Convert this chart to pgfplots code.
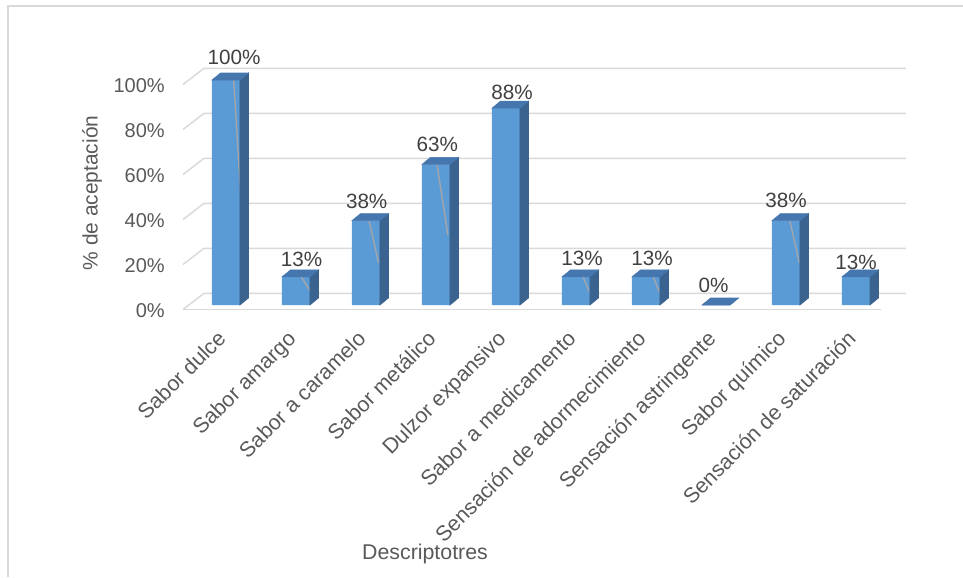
\documentclass[border=0pt]{standalone}
\usepackage{pgfplots}
\pgfplotsset{compat=1.18}
\usepackage{pgfplotstable}
\usepackage{fontspec}
\setmainfont{Liberation Sans}
\definecolor{frontcol}{HTML}{5B9BD5}
\definecolor{sidecol}{HTML}{3A638F}
\definecolor{topcol}{HTML}{4676AE}
\definecolor{gridcol}{HTML}{D9D9D9}
\definecolor{txtcol}{HTML}{595959}
\definecolor{lblcol}{HTML}{404040}
\definecolor{leadcol}{HTML}{A6A6A6}
\pgfdeclareplotmark{empty}{}

\pgfplotstableread{
x v
0 100
1 12.5
2 37.5
3 62.5
4 87.5
5 12.5
6 12.5
7 0
8 37.5
9 12.5
}\bardata

\pgfplotstableread{
lx ly lab
0.114 109.9 100\%
1.081 20.1 13\%
2.01 46.2 38\%
3.02 71.5 63\%
4.086 94.5 88\%
5.086 20.9 13\%
6.086 20.9 13\%
6.964 8.5 0\%
8.0 46.7 38\%
9.0 18.9 13\%
}\barlabels

\begin{document}
\begin{tikzpicture}[font=\fontsize{15}{18}\selectfont]
\begin{axis}[
  x=52.5pt, y=1.6875pt,
  xmin=-0.614, xmax=9.714, ymin=-2.2, ymax=112,
  clip=false,
  axis line style={draw=none},
  major tick length=0pt,
  tick style={draw=none},
  xtick={0,...,9},
  xticklabels={Sabor dulce,Sabor amargo,Sabor a caramelo,Sabor metálico,Dulzor expansivo,Sabor a medicamento,Sensación de adormecimiento,Sensación astringente,Sabor químico,Sensación de saturación},
  ytick={0,20,...,100},
  yticklabels={0\%,20\%,40\%,60\%,80\%,100\%},
  xticklabel style={xshift=-7.5pt, yshift=-14.25pt, rotate=45, anchor=north east, inner sep=0pt, text=txtcol, font=\fontsize{16}{19}\selectfont},
  yticklabel style={xshift=-13.5pt, yshift=-4.2pt, anchor=east, inner sep=0pt, text=txtcol, font=\fontsize{15}{18}\selectfont},
  xlabel={Descriptotres}, ylabel={\% de aceptación},
  every axis x label/.style={at={(axis cs:2.843,-110.7)}, anchor=center, text=txtcol, font=\fontsize{16}{19}\selectfont},
  every axis y label/.style={at={(axis cs:-1.914,49.8)}, rotate=90, anchor=center, text=txtcol, font=\fontsize{15.7}{19}\selectfont},
]
% frame
\draw[gridcol, line width=1.5pt] (axis cs:-3.114,-120.89) -- (axis cs:-3.114,132.9) -- (axis cs:10.5286,132.9);
% floor and walls
\draw[gridcol, line width=1.1pt] (axis cs:-0.614,-2.0) -- (axis cs:9.357,-2.0);
\draw[gridcol, line width=1.1pt] (axis cs:-0.614,-2.0) -- (axis cs:-0.314,5.2) -- (axis cs:9.714,5.2);
\draw[gridcol, line width=1.1pt] (axis cs:-0.614,18.0) -- (axis cs:-0.314,25.2) -- (axis cs:9.714,25.2);
\draw[gridcol, line width=1.1pt] (axis cs:-0.614,38.0) -- (axis cs:-0.314,45.2) -- (axis cs:9.714,45.2);
\draw[gridcol, line width=1.1pt] (axis cs:-0.614,58.0) -- (axis cs:-0.314,65.2) -- (axis cs:9.714,65.2);
\draw[gridcol, line width=1.1pt] (axis cs:-0.614,78.0) -- (axis cs:-0.314,85.2) -- (axis cs:9.714,85.2);
\draw[gridcol, line width=1.1pt] (axis cs:-0.614,98.0) -- (axis cs:-0.314,105.2) -- (axis cs:9.714,105.2);

% front faces
\addplot[ybar, bar width=0.4, fill=frontcol, draw=none] table[x=x,y=v] {\bardata};
% side and top faces
\addplot[scatter, only marks, mark=empty,
  visualization depends on={rawy \as \val},
  scatter/@pre marker code/.code={%
    \fill[sidecol] (10.5pt,0pt) -- (10.5pt,{-\val*1.6875pt}) -- (16.875pt,{5.25pt-\val*1.6875pt}) -- (16.875pt,5.25pt) -- cycle;
    \fill[topcol] (-10.5pt,0pt) -- (10.5pt,0pt) -- (16.875pt,5.25pt) -- (-4.125pt,5.25pt) -- cycle;
  },
  scatter/@post marker code/.code={},
] table[x=x,y=v] {\bardata};

% leader lines
\addplot[leadcol, line width=1pt, mark=none] coordinates {(0.105,102.2) (0.21,49.6)};
\addplot[leadcol, line width=1pt, mark=none] coordinates {(1.067,12.9) (1.21,5.9)};
\addplot[leadcol, line width=1pt, mark=none] coordinates {(2.029,39.6) (2.18,18.7)};
\addplot[leadcol, line width=1pt, mark=none] coordinates {(3.014,62.6) (3.17,31.1)};
\addplot[leadcol, line width=1pt, mark=none] coordinates {(5.08,14.2) (5.19,5.9)};
\addplot[leadcol, line width=1pt, mark=none] coordinates {(6.08,14.2) (6.19,5.9)};
\addplot[leadcol, line width=1pt, mark=none] coordinates {(8.04,39.6) (8.19,18.7)};

% data labels
\addplot[only marks, mark=empty, point meta=explicit symbolic,
  nodes near coords, nodes near coords align={center},
  every node near coord/.append style={anchor=center, inner sep=0pt, text=lblcol, font=\fontsize{15.5}{18}\selectfont}]
  table[x=lx, y=ly, meta=lab] {\barlabels};

\coordinate (bbsw) at (axis cs:-3.2286,-120.89);
\coordinate (bbne) at (axis cs:10.5286,135.56);
\end{axis}
\pgfresetboundingbox
\useasboundingbox (bbsw) rectangle (bbne);
\end{tikzpicture}
\end{document}
